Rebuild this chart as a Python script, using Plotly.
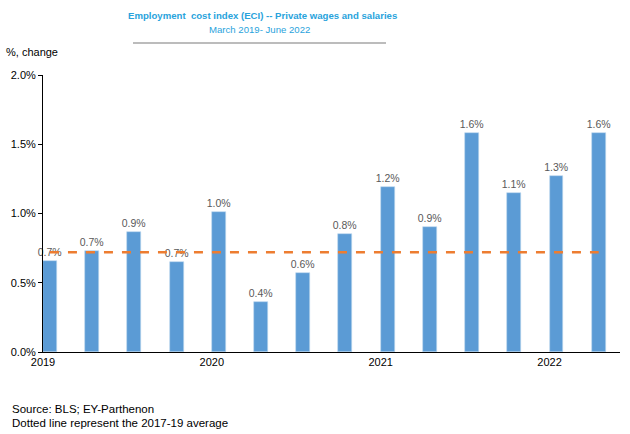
import plotly.graph_objects as go

quarters = ["Q1 2019", "Q2 2019", "Q3 2019", "Q4 2019",
            "Q1 2020", "Q2 2020", "Q3 2020", "Q4 2020",
            "Q1 2021", "Q2 2021", "Q3 2021", "Q4 2021",
            "Q1 2022", "Q2 2022"]
eci_change = [0.66, 0.73, 0.87, 0.65, 1.01, 0.36, 0.57, 0.85,
              1.19, 0.90, 1.58, 1.15, 1.27, 1.58]
avg_2017_19 = 0.72
year_ticks = [0, 4, 8, 12]
year_labels = ["2019", "2020", "2021", "2022"]

W = 0.33
xs = list(range(len(quarters)))

FAM = "Liberation Sans, Arial"
L, R, T, B = 43, 10, 75, 82
PW, PH = 630 - L - R, 434 - T - B


def px(x):
    return (x - L) / PW


def py(y):
    return (434 - B - y) / PH


fig = go.Figure()
fig.add_trace(go.Bar(
    x=xs, y=eci_change, width=W, offset=0,
    marker=dict(color="#5B9BD5", line=dict(color="#BDD7EE", width=0.6)),
    text=[f"{v:.1f}%" for v in eci_change], textposition="outside",
    constraintext="none",
    textfont=dict(family=FAM, size=10.5, color="#595959"),
    cliponaxis=False, hovertext=quarters,
))
fig.add_trace(go.Scatter(
    x=[xs[0] + W / 2, xs[-1] + W / 2], y=[avg_2017_19, avg_2017_19],
    mode="lines", line=dict(color="#ED7D31", width=2.5, dash="dash"),
))

fig.update_layout(
    width=630, height=434, showlegend=False,
    paper_bgcolor="white", plot_bgcolor="white",
    margin=dict(l=L, r=R, t=T, b=B),
    font=dict(family=FAM, size=11, color="#000000"),
    xaxis=dict(range=[0, 13.67], tickmode="array", tickvals=year_ticks,
               ticktext=year_labels, showline=True, linecolor="black",
               linewidth=1, showgrid=False, zeroline=False, ticks="",
               tickfont=dict(size=11, family=FAM)),
    yaxis=dict(range=[0, 2.0], tickvals=[0, 0.5, 1.0, 1.5, 2.0],
               ticktext=["0.0%", "0.5%", "1.0%", "1.5%", "2.0%"],
               showline=True, linecolor="black", linewidth=1,
               showgrid=False, zeroline=False, ticks="outside",
               ticklen=4, tickcolor="black",
               tickfont=dict(size=11, family=FAM)),
    bargap=0,
)

annots = [
    dict(text="<b>Employment  cost index (ECI) -- Private wages and salaries</b>",
         x=px(262), y=py(15), font=dict(size=9.6, color="#29A3DC", family=FAM),
         xanchor="center"),
    dict(text="March 2019- June 2022", x=px(259), y=py(30),
         font=dict(size=9.6, color="#29A3DC", family=FAM), xanchor="center"),
    dict(text="%, change", x=px(4), y=py(52),
         font=dict(size=11, color="#000000", family=FAM), xanchor="left"),
    dict(text="Source: BLS; EY-Parthenon", x=px(10), y=py(409),
         font=dict(size=11.5, color="#000000", family=FAM), xanchor="left"),
    dict(text="Dotted line represent the 2017-19 average", x=px(10), y=py(423),
         font=dict(size=11.5, color="#000000", family=FAM), xanchor="left"),
]
for a in annots:
    a.update(xref="paper", yref="paper", showarrow=False, yanchor="middle")
fig.update_layout(annotations=annots)
fig.add_shape(type="line", xref="paper", yref="paper",
              x0=px(133), x1=px(386), y0=py(43), y1=py(43),
              line=dict(color="#A6A6A6", width=1.5))

fig.write_html("out.html")
